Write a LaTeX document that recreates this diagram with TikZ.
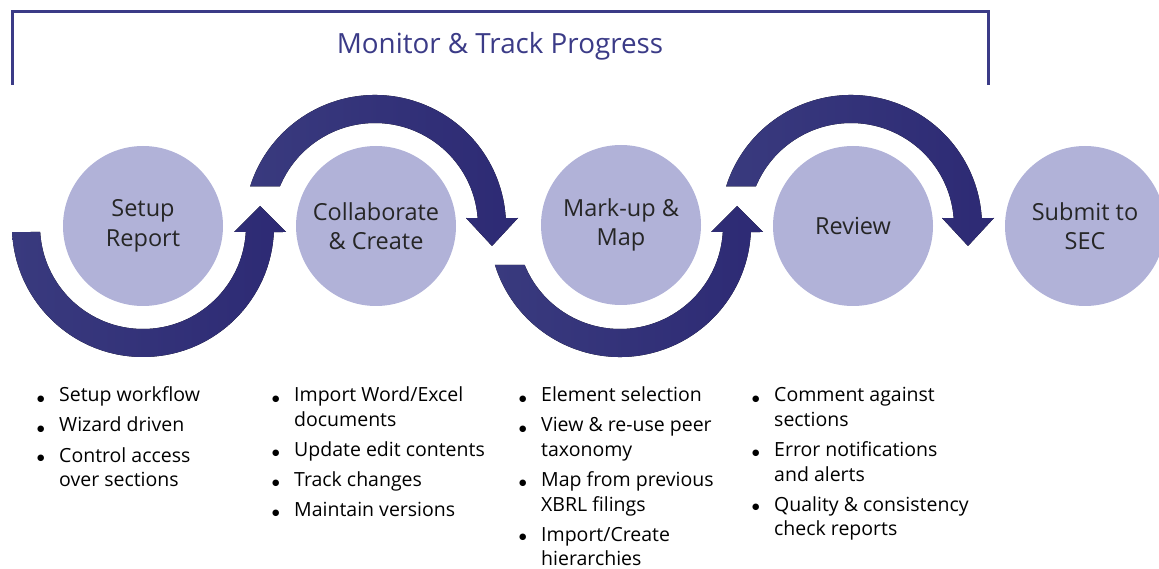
\documentclass[tikz,border=0pt]{standalone}
\usepackage{fontspec}
\setmainfont{Open Sans}
\newfontfamily\symfont{DejaVu Sans}
\usetikzlibrary{calc}
\definecolor{navy}{RGB}{59,59,135}
\definecolor{bandL}{RGB}{57,58,126}
\definecolor{bandR}{RGB}{45,42,116}
\definecolor{lav}{RGB}{177,178,216}
\definecolor{ink}{RGB}{38,38,38}
\newcommand\mybullet{\raisebox{1pt}{\symfont\fontsize{8.5}{9}\selectfont ●}}
\begin{document}
\begin{tikzpicture}[x=1pt,y=1pt,
  stage/.style={circle, fill=lav, minimum size=160pt, inner sep=0pt, align=center,
    text=ink, font=\fontsize{23.5}{29.5}\selectfont},
  band/.style={left color=bandL, right color=bandR, draw=none},
  bracket/.style={draw=navy, line width=3pt},
  title/.style={text=navy, font=\fontsize{27.8}{32}\selectfont},
  bullist/.style={anchor=base west, inner sep=0pt, text=black,
    font=\fontsize{19.5}{24.5}\selectfont}]
\useasboundingbox (0,0) rectangle (1159,568);
\clip (0,0) rectangle (1159,568);
% bracket and title
\coordinate (bl) at (12,483);
\coordinate (tl) at (12,556);
\coordinate (tr) at (988,556);
\coordinate (br) at (988,483);
\draw[bracket] (bl) -- (tl) -- (tr) -- (br);
\node[title] (ttl) at (500,522) {Monitor \& Track Progress};
% arc centres
\coordinate (a1) at (143,342);
\coordinate (a2) at (375,342);
\coordinate (a3) at (620,342);
\coordinate (a4) at (851,342);
% arc 1 (under Setup Report, arrow up)
\fill[band] ($(a1)+(182.63:131)$) arc[start angle=182.63, end angle=357.37, radius=131]
  -- ($(a1)+(143,-6)$) -- ($(a1)+(117,20)$) -- ($(a1)+(91,-6)$)
  -- ($(a1)+(356.66:103)$) arc[start angle=356.66, end angle=183.34, radius=103] -- cycle;
% arc 2 (over Collaborate, arrow down)
\fill[band] ($(a2)+(162.36:131)$) arc[start angle=162.36, end angle=3.47, radius=131]
  -- ($(a2)+(143,8)$) -- ($(a2)+(117,-20)$) -- ($(a2)+(91,8)$)
  -- ($(a2)+(4.41:103)$) arc[start angle=4.41, end angle=157.38, radius=103] -- cycle;
% arc 3 (under Mark-up, arrow up)
\fill[band] ($(a3)+(197.32:131)$) arc[start angle=197.32, end angle=357.37, radius=131]
  -- ($(a3)+(143,-6)$) -- ($(a3)+(117,20)$) -- ($(a3)+(91,-6)$)
  -- ($(a3)+(356.66:103)$) arc[start angle=356.66, end angle=202.25, radius=103] -- cycle;
% arc 4 (over Review, arrow down)
\fill[band] ($(a4)+(162.36:131)$) arc[start angle=162.36, end angle=3.47, radius=131]
  -- ($(a4)+(143,8)$) -- ($(a4)+(117,-20)$) -- ($(a4)+(91,8)$)
  -- ($(a4)+(4.41:103)$) arc[start angle=4.41, end angle=157.38, radius=103] -- cycle;
% stages
\node[stage] (s1) at (143,342) {Setup\\Report};
\node[stage] (s2) at (376,342) {Collaborate\\\& Create};
\node[stage] (s3) at (621,343) {Mark-up \&\\Map};
\node[stage] (s4) at (853,342) {Review};
\node[stage] (s5) at (1085,342) {Submit to\\SEC};
% bullet lists
\node[bullist] (l1) at (37,166) {\begin{tabular}[t]{@{}p{22pt}@{}l@{}}
\mybullet & Setup workflow\\[5.5pt]
\mybullet & Wizard driven\\[5.5pt]
\mybullet & Control access\\
 & over sections
\end{tabular}};
\node[bullist] (l2) at (272,166) {\begin{tabular}[t]{@{}p{22pt}@{}l@{}}
\mybullet & Import Word/Excel\\
 & documents\\[5.5pt]
\mybullet & Update edit contents\\[5.5pt]
\mybullet & Track changes\\[5.5pt]
\mybullet & Maintain versions
\end{tabular}};
\node[bullist] (l3) at (519,166) {\begin{tabular}[t]{@{}p{22pt}@{}l@{}}
\mybullet & Element selection\\[5.5pt]
\mybullet & View \& re-use peer\\
 & taxonomy\\[5.5pt]
\mybullet & Map from previous\\
 & XBRL filings\\[5.5pt]
\mybullet & Import/Create\\
 & hierarchies
\end{tabular}};
\node[bullist] (l4) at (752,166) {\begin{tabular}[t]{@{}p{22pt}@{}l@{}}
\mybullet & Comment against\\
 & sections\\[5.5pt]
\mybullet & Error notifications\\
 & and alerts\\[5.5pt]
\mybullet & Quality \& consistency\\
 & check reports
\end{tabular}};
\end{tikzpicture}
\end{document}
